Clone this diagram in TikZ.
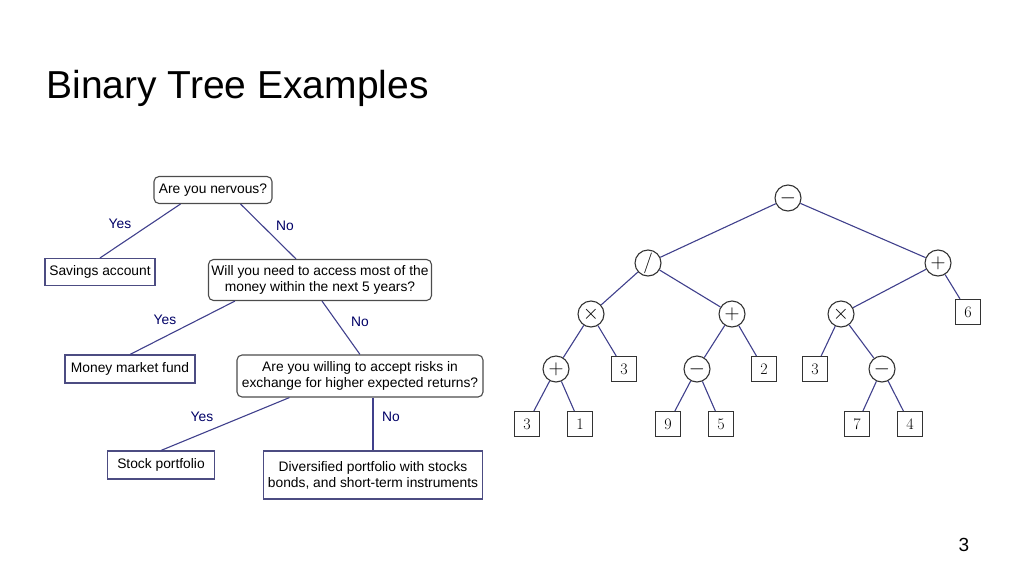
\documentclass[tikz,border=0pt]{standalone}
\usepackage{fontspec}
\setsansfont{Liberation Sans}
\begin{document}
\begin{tikzpicture}[x=1pt,y=-1pt,
  q/.style={draw=black!70,rounded corners=5pt,align=center,font=\sffamily\fontsize{13.8}{16}\selectfont,inner sep=2pt,line width=1.1pt},
  a/.style={draw=blue!30!black!70,align=center,font=\sffamily\fontsize{13.8}{16}\selectfont,inner sep=2pt,line width=1.1pt},
  e/.style={draw=blue!40!black!75,line width=1.1pt},
  lb/.style={font=\sffamily\fontsize{13.8}{16}\selectfont,text=blue!40!black},
  op/.style={circle,draw=black!80,minimum size=26pt,inner sep=0pt,line width=1.1pt,font=\fontsize{22}{22}\selectfont},
  lf/.style={draw=black!80,minimum size=25pt,inner sep=0pt,line width=1.1pt,font=\fontsize{16}{16}\selectfont}]
\useasboundingbox (0,0) rectangle (1024,576);
\node[anchor=west,font=\sffamily\fontsize{39}{42}\selectfont] (title) at (43,88) {Binary Tree Examples};
\node[font=\sffamily\fontsize{19}{20}\selectfont] (pg) at (964,545) {3};
% flowchart
\node[q,minimum width=118pt,minimum height=27pt] (n1) at (213,190) {Are you nervous?};
\node[a,minimum width=110pt,minimum height=27pt] (s) at (100,272) {Savings account};
\node[q,minimum width=223pt,minimum height=41pt,inner sep=1pt] (n2) at (320,280) {Will you need to access most of the\\money within the next 5 years?};
\node[a,minimum width=130pt,minimum height=28pt] (m) at (130,369) {Money market fund};
\node[q,minimum width=246pt,minimum height=42pt,inner sep=1pt] (n3) at (360,376) {Are you willing to accept risks in\\exchange for higher expected returns?};
\node[a,minimum width=107pt,minimum height=28pt] (sp) at (161,465) {Stock portfolio};
\node[a,minimum width=219pt,minimum height=48pt,inner sep=1pt] (d) at (373,475) {Diversified portfolio with stocks\\bonds, and short-term instruments};
\draw[e] (n1.south west)++(27,0) -- (s.north);
\draw[e] (n1.south east)++(-32,0) -- ([xshift=-24pt]n2.north);
\draw[e] (n2.south west)++(27,0) -- (m.north);
\draw[e] (n2.south)++(2,0) -- (n3.north);
\draw[e] (n3.south west)++(53,0) -- (sp.north);
\draw[e] (n3.south)++(13,0) -- (d.north);
\node[lb] (l1) at (120,224) {Yes};
\node[lb] (l2) at (285,226) {No};
\node[lb] (l3) at (165,320) {Yes};
\node[lb] (l4) at (360,322) {No};
\node[lb] (l5) at (202,417) {Yes};
\node[lb] (l6) at (391,417) {No};
% expression tree
\node[op] (r) at (788,198) {$-$};
\node[op] (dv) at (648,263) {$/$};
\node[op] (p1) at (938,263) {$+$};
\node[op] (t1) at (591,314) {$\times$};
\node[op] (p2) at (732,314) {$+$};
\node[op] (t2) at (841,314) {$\times$};
\node[lf] (six) at (968,312) {6};
\node[op] (p3) at (556,369) {$+$};
\node[lf] (c3a) at (624,369) {3};
\node[op] (m1) at (697,369) {$-$};
\node[lf] (c2) at (764,369) {2};
\node[lf] (c3b) at (815,369) {3};
\node[op] (m2) at (882,369) {$-$};
\node[lf] (c3c) at (527,424) {3};
\node[lf] (c1) at (580,424) {1};
\node[lf] (c9) at (668,424) {9};
\node[lf] (c5) at (721,424) {5};
\node[lf] (c7) at (857,424) {7};
\node[lf] (c4) at (910,424) {4};
\foreach \u/\v in {r/dv,r/p1,dv/t1,dv/p2,p1/t2,p1/six,t1/p3,t1/c3a,p2/m1,p2/c2,t2/c3b,t2/m2,p3/c3c,p3/c1,m1/c9,m1/c5,m2/c7,m2/c4}
  \draw[e] (\u) -- (\v);
\end{tikzpicture}
\end{document}
